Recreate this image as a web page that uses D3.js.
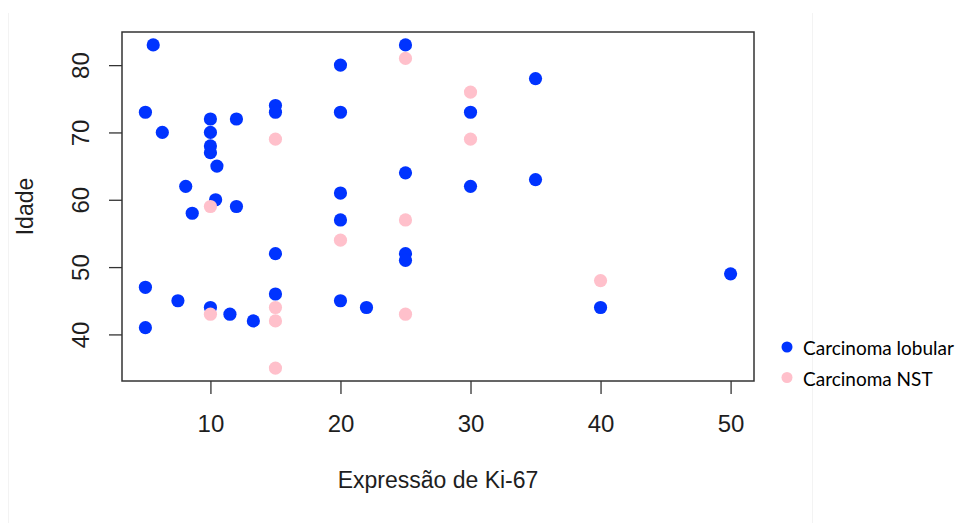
<!DOCTYPE html>
<html>
<head>
<meta charset="utf-8">
<script src="https://cdn.jsdelivr.net/npm/d3@7"></script>
<style>
    body { margin: 0; background: #fff; }
    svg { display: block; }
</style>
</head>
<body>
<script>

// Ki-67 values and ages, carcinoma lobular (blue)
var lobularKi67 = [5.6, 5, 6.3, 10, 10, 10, 10, 10.5, 8.1, 10.4, 12, 12, 8.6, 15, 15, 20, 20, 20, 20,
    25, 25, 15, 5, 7.5, 10, 11.5, 13.3, 5, 15, 20, 22, 25, 35, 30, 25, 30, 35, 40, 50];
var lobularIdade = [83, 73, 70, 72, 70, 68, 67, 65, 62, 60, 72, 59, 58, 74, 73, 80, 73, 61, 57,
    52, 51, 52, 47, 45, 44, 43, 42, 41, 46, 45, 44, 83, 78, 73, 64, 62, 63, 44, 49];

// Ki-67 values and ages, carcinoma NST (pink)
var nstKi67 = [10, 15, 20, 25, 10, 15, 15, 15, 25, 25, 30, 30, 40];
var nstIdade = [59, 69, 54, 57, 43, 44, 42, 35, 43, 81, 76, 69, 48];

// tick labels
var xTicks = [10, 20, 30, 40, 50];
var yTicks = [40, 50, 60, 70, 80];

var seriesNames = ["Carcinoma lobular", "Carcinoma NST"];
var seriesColors = ["#0033ff", "#ffc0cb"];

// Width and height
var w = 960;
var h = 523;
var plot = { left: 122, top: 32, right: 754, bottom: 381 };
var axisFont = "'Liberation Sans', Arial, sans-serif";

var svg = d3.select("body")
    .append("svg")
    .attr("width", w)
    .attr("height", h);

// faint panel edges left over from the screenshot
[8.5, 812.5].forEach(function(px) {
    svg.append("line")
        .attr("x1", px).attr("x2", px)
        .attr("y1", 13).attr("y2", h)
        .attr("stroke", "#f3f3f3");
});

// R style scales: data range extended by 4% on each side
var x = d3.scaleLinear().domain([3.2, 51.8]).range([plot.left, plot.right]);
var y = d3.scaleLinear().domain([33.08, 84.92]).range([plot.bottom, plot.top]);

// x axis
var gx = svg.append("g")
    .attr("transform", "translate(0," + plot.bottom + ")")
    .call(d3.axisBottom(x).tickValues(xTicks).tickSize(13).tickPadding(21).tickFormat(d3.format("d")));

// y axis, labels parallel to the axis
var gy = svg.append("g")
    .attr("transform", "translate(" + plot.left + ",0)")
    .call(d3.axisLeft(y).tickValues(yTicks).tickSize(13).tickFormat(d3.format("d")));

gy.selectAll("text")
    .attr("x", null)
    .attr("dy", null)
    .attr("text-anchor", "middle")
    .attr("transform", "translate(-33,0) rotate(-90)");

[gx, gy].forEach(function(g) {
    g.select(".domain").remove();
    g.selectAll("line").attr("stroke", "#333").attr("stroke-width", 1.3);
    g.selectAll("text")
        .attr("fill", "#1e1e1e")
        .style("font-family", axisFont)
        .style("font-size", "24px");
});

// box around the plot
svg.append("rect")
    .attr("x", plot.left)
    .attr("y", plot.top)
    .attr("width", plot.right - plot.left)
    .attr("height", plot.bottom - plot.top)
    .attr("fill", "none")
    .attr("stroke", "#333")
    .attr("stroke-width", 1.5);

// axis titles
svg.append("text")
    .attr("x", (plot.left + plot.right) / 2)
    .attr("y", 488)
    .attr("text-anchor", "middle")
    .attr("fill", "#1e1e1e")
    .style("font-family", axisFont)
    .style("font-size", "23px")
    .text("Expressão de Ki-67");

svg.append("text")
    .attr("transform", "translate(33," + (plot.top + plot.bottom) / 2 + ") rotate(-90)")
    .attr("text-anchor", "middle")
    .attr("fill", "#1e1e1e")
    .style("font-family", axisFont)
    .style("font-size", "23px")
    .text("Idade");

// points, one circle per observation
var lobular = lobularKi67.map(function(d, i) { return { k: d, age: lobularIdade[i] }; });
var nst = nstKi67.map(function(d, i) { return { k: d, age: nstIdade[i] }; });

[lobular, nst].forEach(function(data, s) {
    svg.append("g")
        .selectAll("circle")
        .data(data)
        .enter()
        .append("circle")
        .attr("cx", function(d) { return x(d.k); })
        .attr("cy", function(d) { return y(d.age); })
        .attr("r", 6.6)
        .attr("fill", seriesColors[s]);
});

// legend
var legend = svg.append("g")
    .selectAll("g")
    .data(seriesNames)
    .enter()
    .append("g")
    .attr("transform", function(d, i) { return "translate(787," + (347 + i * 30.5) + ")"; });

legend.append("circle")
    .attr("r", 5.5)
    .attr("fill", function(d, i) { return seriesColors[i]; });

legend.append("text")
    .attr("x", 16)
    .attr("y", 8)
    .attr("fill", "#000")
    .style("font-family", "Lato, 'Open Sans', sans-serif")
    .style("font-size", "19px")
    .text(function(d) { return d; });

</script>
</body>
</html>
